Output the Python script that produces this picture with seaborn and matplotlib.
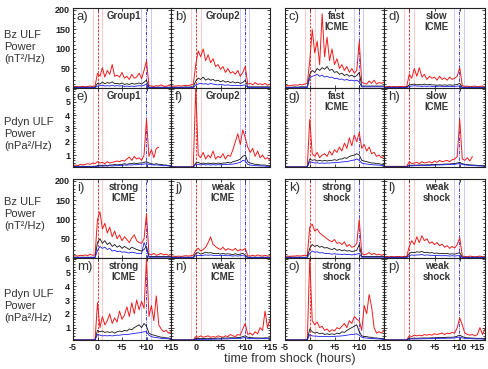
import numpy as np
import matplotlib
matplotlib.use('Agg')
import matplotlib.pyplot as plt
import seaborn as sns
from matplotlib.ticker import MultipleLocator

sns.set_style('ticks')
plt.rcParams['font.family'] = ['Liberation Sans', 'DejaVu Sans']

nan = np.nan
# time from shock, half-hour steps
hours = np.arange(-5, 15.25, 0.5)

# ---- Bz ULF power, top block ----
a_red = [3,4,3,3,4,3,4,5,4,5, 38,30,52,28,45,35,60,30,33,28, 40,25,30,22,35,25,28,38,24,45, 70,6,5,4,6,5,8,5,4,7,5]
a_black = [2,2,2,2,2,2,2,2,2,2, 12,10,15,11,14,12,16,11,12,10, 13,9,11,9,12,10,11,13,10,15, 20,2,2,2,2,2,2,2,2,2,2]
a_blue = [1,1,1,1,1,1,1,1,1,1, 5,6,7,5,6,5,7,5,6,5, 6,4,5,4,5,4,5,6,5,7, 10,1,1,1,1,1,1,1,1,1,1]

b_red = [4,5,5,6,5,6,7,6,8,9, 60,95,80,100,70,85,65,75,55,60, 48,55,40,50,38,42,35,45,30,40, 55,10,12,8,14,9,11,8,12,7,10]
b_black = [2,2,2,2,2,2,3,2,3,3, 18,25,22,28,20,24,20,22,18,20, 16,19,15,17,14,16,13,15,12,14, 20,3,3,3,3,3,3,3,3,3,3]
b_blue = [1,1,1,1,1,1,1,1,1,1, 8,10,12,10,11,9,12,10,9,8, 9,8,7,8,7,6,7,6,6,7, 8,1,1,1,1,1,1,1,1,1,1]

c_red = [5,6,6,7,8,7,9,8,10,12, 70,150,90,120,60,190,80,130,70,100, 60,75,50,60,45,55,40,50,38,45, 120,15,12,10,18,12,20,10,14,12,15]
c_black = [2,2,2,2,3,2,3,3,3,3, 35,45,40,50,45,52,48,55,45,48, 40,42,35,38,32,35,30,33,28,32, 40,5,5,5,5,5,5,5,5,5,5]
c_blue = [1,1,1,1,1,1,1,1,1,1, 25,30,32,35,30,33,28,30,27,28, 24,25,22,23,20,22,19,20,18,20, 15,3,3,3,3,3,3,3,3,3,3]

d_red = [3,3,4,3,4,3,4,4,3,4, 35,25,50,30,52,28,35,22,30,25, 28,20,30,22,26,20,28,22,25,30, 52,6,4,5,3,4,5,3,4,5,3]
d_black = [2,2,2,2,2,2,2,2,2,2, 8,9,10,8,9,8,10,8,9,8, 8,7,8,7,8,7,8,7,8,9, 12,2,2,2,2,2,2,2,2,2,2]
d_blue = [1,1,1,1,1,1,1,1,1,1, 4,5,6,5,5,4,5,4,5,4, 4,4,5,4,4,4,4,4,4,5, 5,1,1,1,1,1,1,1,1,1,1]

# ---- Pdyn ULF power, top block ----
e_red = [0.2,0.25,0.2,0.3,0.25,0.3,0.35,0.3,0.4,0.35, 0.5,0.4,0.45,0.35,0.5,0.4,0.45,0.5,0.55,0.5, 0.6,0.55,0.7,0.85,0.6,0.9,0.7,0.8,0.6,1.0, 3.7,0.9,1.4,0.8,1.5,1.6, nan,nan,nan,nan,nan]
e_black = [0.15,0.15,0.15,0.15,0.15,0.15,0.15,0.15,0.15,0.15, 0.2,0.25,0.2,0.25,0.2,0.25,0.25,0.3,0.25,0.3, 0.3,0.35,0.3,0.35,0.35,0.4,0.35,0.4,0.4,0.45, 0.5,0.4,0.35,0.3,0.35,0.3,0.3,0.25,0.25,0.2,0.2]
e_blue = [0.12,0.12,0.12,0.12,0.12,0.12,0.12,0.12,0.12,0.12, 0.15,0.18,0.16,0.18,0.17,0.2,0.18,0.2,0.2,0.22, 0.22,0.25,0.24,0.26,0.25,0.28,0.27,0.3,0.3,0.32, 0.35,0.3,0.28,0.25,0.26,0.24,0.22,0.2,0.2,0.18,0.18]

f_red = [0.1,0.1,0.1,0.1,0.1,0.1,0.1,0.1,0.1,0.1, 6.0,1.0,0.8,1.2,0.7,1.0,0.8,1.3,0.7,0.9, 0.8,1.1,0.7,1.0,0.9,1.4,2.0,2.6,1.8,2.9, 2.3,1.6,1.2,1.5,0.9,1.3,0.8,1.0,0.7,0.8,0.6]
f_black = [0.1,0.1,0.1,0.1,0.1,0.1,0.1,0.1,0.1,0.1, 0.4,0.45,0.35,0.4,0.35,0.4,0.35,0.4,0.35,0.4, 0.35,0.4,0.4,0.45,0.4,0.5,0.55,0.6,0.7,0.9, 1.0,0.5,0.4,0.35,0.3,0.3,0.25,0.25,0.25,0.2,0.2]
f_blue = [0.1,0.1,0.1,0.1,0.1,0.1,0.1,0.1,0.1,0.1, 0.3,0.3,0.25,0.3,0.25,0.28,0.25,0.28,0.25,0.28, 0.26,0.28,0.28,0.3,0.3,0.32,0.35,0.4,0.45,0.6, 0.55,0.3,0.25,0.22,0.2,0.2,0.18,0.18,0.16,0.15,0.15]

g_red = [0.1,0.1,0.1,0.1,0.1,0.1,0.1,0.1,0.1,0.1, 3.7,1.1,0.9,1.2,0.8,1.0,1.1,0.9,1.3,1.0, 1.4,1.2,1.6,1.3,1.9,1.5,2.3,1.7,2.5,2.0, 2.7,1.5,1.8,1.3,1.6,1.1,1.2,0.9,1.0,0.8,0.9]
g_black = [0.1,0.1,0.1,0.1,0.1,0.1,0.1,0.1,0.1,0.1, 0.7,0.6,0.65,0.55,0.6,0.55,0.6,0.55,0.6,0.6, 0.65,0.6,0.7,0.7,0.8,0.75,0.9,0.95,1.0,1.1, 1.0,0.6,0.55,0.5,0.45,0.4,0.4,0.35,0.35,0.3,0.3]
g_blue = [0.1,0.1,0.1,0.1,0.1,0.1,0.1,0.1,0.1,0.1, 0.5,0.45,0.4,0.42,0.38,0.4,0.38,0.4,0.4,0.42, 0.42,0.45,0.45,0.48,0.5,0.5,0.55,0.6,0.62,0.7, 0.6,0.4,0.35,0.32,0.3,0.28,0.26,0.25,0.24,0.22,0.2]

h_red = [0.15,0.15,0.15,0.15,0.15,0.15,0.15,0.15,0.15,0.15, 0.5,0.35,0.4,0.45,0.35,0.5,0.4,0.45,0.5,0.4, 0.55,0.45,0.6,0.5,0.55,0.6,0.5,0.65,0.7,0.9, 3.7,0.7,0.6,0.8,0.55,0.9, nan,nan,nan,nan,nan]
h_black = [0.12,0.12,0.12,0.12,0.12,0.12,0.12,0.12,0.12,0.12, 0.25,0.22,0.25,0.24,0.25,0.26,0.25,0.27,0.26,0.28, 0.28,0.3,0.3,0.3,0.32,0.32,0.33,0.35,0.36,0.4, 0.45,0.35,0.3,0.28,0.26,0.25,0.24,0.22,0.2,0.2,0.2]
h_blue = [0.1,0.1,0.1,0.1,0.1,0.1,0.1,0.1,0.1,0.1, 0.2,0.18,0.2,0.2,0.2,0.22,0.2,0.22,0.22,0.24, 0.24,0.25,0.26,0.26,0.27,0.28,0.28,0.3,0.3,0.34, 0.36,0.3,0.26,0.24,0.22,0.2,0.2,0.18,0.18,0.16,0.16]

# ---- Bz ULF power, bottom block ----
i_red = [5,6,5,7,6,8,6,10,7,8, 100,120,75,90,65,80,55,70,50,60, 45,55,48,40,52,60,45,40,38,50, 115,10,8,12,7,9,12,8,10,7,9]
i_black = [2,2,2,2,2,2,2,2,2,2, 40,50,38,45,35,40,30,35,28,32, 25,30,26,22,28,25,22,20,18,22, 30,4,4,4,4,4,4,4,4,4,4]
i_blue = [1,1,1,1,1,1,1,1,1,1, 20,30,25,28,22,25,18,20,16,18, 15,16,14,13,15,14,12,12,11,40, 25,2,2,2,2,2,2,2,2,2,2]

j_red = [4,5,4,5,4,5,6,5,6,7, 20,25,18,22,28,40,55,35,30,25, 22,28,20,24,22,20,25,18,22,20, 25,6,5,7,5,8,6,5,7,5,6]
j_black = [2,2,2,2,2,2,2,2,2,2, 12,14,10,12,15,13,14,12,11,12, 10,12,10,11,10,9,11,9,10,12, 8,2,2,2,2,2,2,2,2,2,2]
j_blue = [1,1,1,1,1,1,1,1,1,1, 6,7,6,7,8,7,8,7,6,7, 6,7,6,6,6,5,6,5,6,6, 5,1,1,1,1,1,1,1,1,1,1]

k_red = [4,5,4,5,5,6,5,6,7,6, 80,88,70,75,65,60,55,50,45,42, 48,38,40,35,42,30,35,28,30,38, 100,12,8,10,14,9,12,8,10,7,9]
k_black = [2,2,2,2,2,2,2,2,2,2, 25,35,30,33,28,30,26,27,24,22, 25,20,22,19,21,18,19,17,18,20, 35,4,4,4,4,4,4,4,4,4,4]
k_blue = [1,1,1,1,1,1,1,1,1,1, 12,18,15,16,13,14,12,12,11,10, 11,10,10,9,10,9,9,8,9,10, 12,2,2,2,2,2,2,2,2,2,2]

l_red = [3,4,3,4,3,4,4,3,4,4, 30,45,35,55,40,58,45,50,38,42, 35,40,32,36,28,32,25,30,26,35, 52,5,4,3,5,4,3,4,5,3,4]
l_black = [2,2,2,2,2,2,2,2,2,2, 12,15,14,16,15,17,14,15,13,14, 12,13,11,12,11,12,10,11,10,12, 14,2,2,2,2,2,2,2,2,2,2]
l_blue = [1,1,1,1,1,1,1,1,1,1, 6,8,7,8,8,9,7,8,7,7, 6,7,6,6,6,6,5,6,5,6, 6,1,1,1,1,1,1,1,1,1,1]

# ---- Pdyn ULF power, bottom block ----
m_red = [0.1,0.1,0.1,0.1,0.1,0.1,0.1,0.1,0.1,0.1, 2.8,1.0,1.8,1.2,1.5,2.0,1.3,1.7,1.4,2.2, 1.6,1.9,2.5,1.8,2.8,2.0,3.0,2.3,2.9,2.4, 6.0,1.8,2.6,1.5,3.3,1.2,0.9,0.7,0.8,0.6,0.7]
m_black = [0.1,0.1,0.1,0.1,0.1,0.1,0.1,0.1,0.1,0.1, 0.8,0.7,0.75,0.65,0.7,0.65,0.7,0.6,0.7,0.75, 0.7,0.8,0.75,0.9,0.85,1.0,1.1,1.2,1.0,1.3, 1.1,0.6,0.5,0.45,0.4,0.35,0.3,0.3,0.25,0.25,0.2]
m_blue = [0.1,0.1,0.1,0.1,0.1,0.1,0.1,0.1,0.1,0.1, 0.5,0.45,0.4,0.42,0.4,0.42,0.4,0.42,0.45,0.45, 0.48,0.5,0.5,0.52,0.55,0.58,0.6,0.62,0.65,0.7, 0.7,0.45,0.35,0.3,0.28,0.25,0.22,0.2,0.2,0.18,0.18]

n_red = [0.1,0.1,0.1,0.1,0.1,0.1,0.1,0.1,0.1,0.1, 0.35,0.3,0.4,0.3,0.35,0.4,0.3,0.35,0.3,0.4, 0.35,0.3,0.4,0.35,0.5,0.4,0.35,0.5,0.45,0.9, 1.3,0.5,0.6,0.45,0.7,0.55,1.0,0.8,2.2,1.0,1.6]
n_black = [0.1,0.1,0.1,0.1,0.1,0.1,0.1,0.1,0.1,0.1, 0.22,0.2,0.22,0.2,0.22,0.22,0.2,0.22,0.22,0.24, 0.22,0.24,0.24,0.25,0.26,0.26,0.26,0.28,0.28,0.35, 0.4,0.3,0.28,0.26,0.25,0.25,0.24,0.24,0.26,0.25,0.25]
n_blue = [0.1,0.1,0.1,0.1,0.1,0.1,0.1,0.1,0.1,0.1, 0.15,0.14,0.15,0.14,0.15,0.15,0.15,0.16,0.16,0.17, 0.17,0.18,0.18,0.18,0.2,0.2,0.2,0.21,0.22,0.25, 0.28,0.22,0.2,0.2,0.2,0.19,0.2,0.2,0.2,0.2,0.2]

o_red = [0.1,0.1,0.1,0.1,0.1,0.1,0.1,0.1,0.1,0.1, 6.0,1.5,1.2,1.4,1.0,1.1,0.8,0.9,0.7,0.85, 0.75,1.0,0.9,1.1,1.3,1.0,1.5,1.3,1.8,1.6, 1.5,0.8,2.6,2.0,3.4,2.5,1.0,0.6,0.7,0.6,0.8]
o_black = [0.1,0.1,0.1,0.1,0.1,0.1,0.1,0.1,0.1,0.1, 0.9,0.7,0.6,0.65,0.55,0.6,0.5,0.55,0.5,0.55, 0.5,0.6,0.55,0.7,0.65,0.8,0.9,1.0,1.1,1.2, 0.7,0.4,0.35,0.35,0.3,0.3,0.25,0.25,0.22,0.2,0.2]
o_blue = [0.1,0.1,0.1,0.1,0.1,0.1,0.1,0.1,0.1,0.1, 0.5,0.4,0.38,0.38,0.35,0.36,0.34,0.35,0.34,0.36, 0.36,0.38,0.38,0.4,0.42,0.45,0.48,0.5,0.52,0.55, 0.45,0.3,0.26,0.24,0.22,0.2,0.2,0.18,0.18,0.16,0.16]

p_red = [0.1,0.1,0.1,0.1,0.1,0.1,0.1,0.1,0.1,0.1, 0.4,0.35,0.45,0.4,0.45,0.4,0.5,0.45,0.5,0.45, 0.55,0.5,0.55,0.6,0.5,0.6,0.55,0.65,0.6,1.0, 1.7,1.2,0.6,0.5,0.45,0.5,0.4,0.5,1.0,0.5,0.9]
p_black = [0.1,0.1,0.1,0.1,0.1,0.1,0.1,0.1,0.1,0.1, 0.25,0.22,0.24,0.22,0.24,0.24,0.25,0.24,0.25,0.26, 0.26,0.27,0.28,0.28,0.28,0.3,0.3,0.3,0.32,0.38, 0.45,0.35,0.28,0.26,0.25,0.24,0.23,0.22,0.22,0.22,0.22]
p_blue = [0.1,0.1,0.1,0.1,0.1,0.1,0.1,0.1,0.1,0.1, 0.18,0.17,0.18,0.18,0.18,0.19,0.19,0.2,0.2,0.2, 0.21,0.21,0.22,0.22,0.22,0.23,0.23,0.24,0.25,0.28, 0.32,0.25,0.22,0.2,0.2,0.19,0.18,0.18,0.18,0.17,0.17]

titles = {
    'a': 'Group1', 'b': 'Group2', 'c': 'fast\nICME', 'd': 'slow\nICME',
    'e': 'Group1', 'f': 'Group2', 'g': 'fast\nICME', 'h': 'slow\nICME',
    'i': 'strong\nICME', 'j': 'weak\nICME', 'k': 'strong\nshock', 'l': 'weak\nshock',
    'm': 'strong\nICME', 'n': 'weak\nICME', 'o': 'strong\nshock', 'p': 'weak\nshock',
}
series = {
    'a': (a_red, a_black, a_blue), 'b': (b_red, b_black, b_blue),
    'c': (c_red, c_black, c_blue), 'd': (d_red, d_black, d_blue),
    'e': (e_red, e_black, e_blue), 'f': (f_red, f_black, f_blue),
    'g': (g_red, g_black, g_blue), 'h': (h_red, h_black, h_blue),
    'i': (i_red, i_black, i_blue), 'j': (j_red, j_black, j_blue),
    'k': (k_red, k_black, k_blue), 'l': (l_red, l_black, l_blue),
    'm': (m_red, m_black, m_blue), 'n': (n_red, n_black, n_blue),
    'o': (o_red, o_black, o_blue), 'p': (p_red, p_black, p_blue),
}

W, H = 488, 369
fig = plt.figure(figsize=(W / 100, H / 100), dpi=100)

# panel edges in pixels
cols = [(73, 171), (171, 270), (285, 384), (384, 485)]
rows = [(8, 88), (88, 167), (179, 258), (258, 340)]

RED, BLACK, BLUE = '#ee1c1c', '#111111', '#1c1cee'

letters = 'abcdefghijklmnop'
for n, letter in enumerate(letters):
    r, c = divmod(n, 4)
    x0, x1 = cols[c]
    y0, y1 = rows[r]
    ax = fig.add_axes([x0 / W, 1 - y1 / H, (x1 - x0) / W, (y1 - y0) / H])
    bz = r in (0, 2)

    # shock and ICME end markers
    for xv in (-1.0, 1.0):
        ax.axvline(xv, color='#ffc0c0', lw=0.6, zorder=0)
    ax.axvline(0, color=RED, lw=0.6, ls=(0, (3, 1.5)), zorder=0)
    for xv in (8.85, 10.85):
        ax.axvline(xv, color='#c0c0ff', lw=0.6, zorder=0)
    ax.axvline(9.85, color=BLUE, lw=0.6, ls=(0, (4, 1.5, 1, 1.5)), zorder=0)

    red, black, blue = series[letter]
    sns.lineplot(x=hours, y=np.array(red, float), ax=ax, color=RED, lw=0.7, estimator=None)
    sns.lineplot(x=hours, y=np.array(black, float), ax=ax, color=BLACK, lw=0.6, estimator=None)
    sns.lineplot(x=hours, y=np.array(blue, float), ax=ax, color=BLUE, lw=0.6, estimator=None)

    ax.set_xlim(-5, 15)
    ax.set_xlabel('')
    ax.set_ylabel('')
    if bz:
        ax.set_ylim(0, 205)
        yt = [50, 100, 150, 200]
        ax.yaxis.set_minor_locator(MultipleLocator(10))
    else:
        ax.set_ylim(0.1, 6.05)
        yt = [1, 2, 3, 4, 5, 6]
        ax.yaxis.set_minor_locator(MultipleLocator(0.2))
    if c == 0:
        ax.set_yticks(yt, [str(v) for v in yt], fontweight='bold')
    else:
        ax.set_yticks(yt, [])

    xt = [-5, 0, 5, 10, 15]
    if r == 3:
        lab = ['-5', '0', '+5', '+10', '+15']
        if c in (1, 3):
            lab[0] = ''
        ax.set_xticks(xt, lab, fontweight='bold')
        if c == 3:
            # keep the last label inside the figure
            ax.get_xticklabels()[-1].set_horizontalalignment('right')
    else:
        ax.set_xticks(xt, [])

    ax.tick_params(which='both', direction='in', top=True, right=True,
                   labelsize=6.5, width=0.6, pad=2, colors='#222222')
    ax.tick_params(which='major', length=2.5)
    ax.tick_params(which='minor', length=1.2)
    for s in ax.spines.values():
        s.set_linewidth(0.8)
        s.set_color('#222222')

    ax.text(0.04, 0.96, f'{letter})', transform=ax.transAxes, fontsize=9.5,
            va='top', ha='left', color='#333333')
    ax.text(0.52, 0.96, titles[letter], transform=ax.transAxes, fontsize=7,
            fontweight='bold', va='top', ha='center', linespacing=1.05,
            color='#333333')

bz_lab = 'Bz ULF\nPower\n(nT²/Hz)'
pd_lab = 'Pdyn ULF\nPower\n(nPa²/Hz)'
for lab, yc in ((bz_lab, 47), (pd_lab, 134), (bz_lab, 214), (pd_lab, 306)):
    fig.text(4 / W, 1 - yc / H, lab, ha='left', va='center', fontsize=8,
             linespacing=1.25, color='#333333')

fig.text(290 / W, 1 - 359 / H, 'time from shock (hours)', ha='center',
         va='center', fontsize=9, color='#333333')

fig.savefig('out.png', dpi=100)
